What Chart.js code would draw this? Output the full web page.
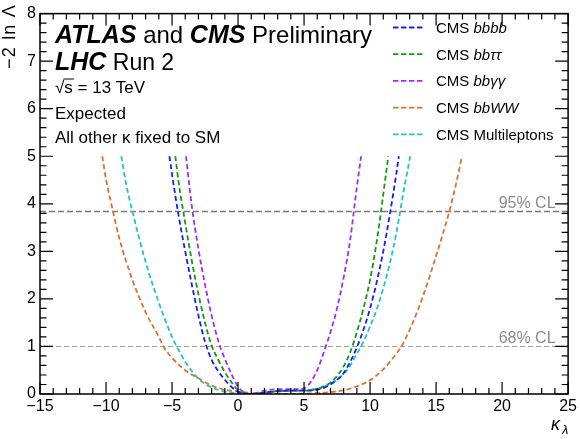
<!DOCTYPE html>
<html>
<head>
<meta charset="utf-8">
<script src="https://cdn.jsdelivr.net/npm/chart.js@4.4.1/dist/chart.umd.min.js"></script>
<style>
  html, body { margin: 0; padding: 0; background: #fff; }
  #wrap { width: 580px; height: 439px; position: relative; }
</style>
</head>
<body>
<div id="wrap"><canvas id="chart-kl"></canvas></div>
<script>
// ─── Data (kappa_lambda, -2 ln Lambda) ───
const bbbbK = [-5.2, -5, -4.5, -4, -3.5, -3, -2.5, -2, -1.5, -1, -0.5, 0, 0.5, 1, 1.5, 2, 3, 4, 5, 6, 6.5, 7, 7.5, 8, 8.5, 9, 9.5, 10, 10.5, 11, 11.5, 12, 12.18];
const bbbbY = [5, 4.62, 3.75, 3.0, 2.3, 1.65, 1.1, 0.72, 0.48, 0.3, 0.15, 0.05, 0.01, 0, 0.01, 0.03, 0.06, 0.07, 0.07, 0.09, 0.13, 0.2, 0.3, 0.44, 0.68, 0.98, 1.35, 1.8, 2.35, 3.0, 3.78, 4.65, 5];

const bbttK = [-4.75, -4.5, -4, -3.5, -3, -2.5, -2, -1.5, -1, -0.5, 0, 0.5, 1, 1.5, 2, 3, 4, 5, 5.5, 6, 6.5, 7, 7.5, 8, 8.5, 9, 9.5, 10, 10.5, 10.8, 11, 11.38];
const bbttY = [5, 4.45, 3.6, 2.8, 2.1, 1.5, 1.02, 0.72, 0.46, 0.25, 0.08, 0.02, 0, 0.01, 0.03, 0.06, 0.07, 0.07, 0.08, 0.11, 0.16, 0.24, 0.38, 0.58, 0.88, 1.3, 1.8, 2.4, 3.2, 3.78, 4.2, 5];

const bbggK = [-3.94, -3.5, -3, -2.5, -2, -1.5, -1, -0.5, 0, 0.5, 1, 1.5, 2, 3, 4, 4.5, 5, 5.5, 6, 6.5, 7, 7.5, 8, 8.5, 8.77, 9, 9.32];
const bbggY = [5, 3.95, 3.05, 2.3, 1.65, 1.12, 0.74, 0.42, 0.15, 0.03, 0, 0.03, 0.07, 0.1, 0.1, 0.1, 0.12, 0.25, 0.5, 0.88, 1.3, 1.8, 2.45, 3.25, 3.84, 4.35, 5];

const bbwwK = [-10.28, -10, -9.47, -9, -8, -7, -6, -5.65, -5, -4, -3, -2, -1, 0, 1, 2, 3, 4, 5, 6, 7, 8, 9, 10, 11, 12, 12.38, 13, 14, 15, 16, 16.5, 16.96];
const bbwwY = [5, 4.52, 3.84, 3.28, 2.4, 1.72, 1.2, 1.0, 0.76, 0.5, 0.33, 0.18, 0.09, 0.05, 0.02, 0.01, 0, 0, 0.01, 0.02, 0.04, 0.08, 0.16, 0.29, 0.52, 0.85, 1.0, 1.35, 2.05, 2.9, 3.84, 4.4, 5];

const mlepK = [-8.84, -8.5, -8, -7, -6, -5, -4.65, -4, -3, -2, -1, 0, 1, 2, 3, 4, 5, 6, 6.5, 7, 7.5, 8, 8.5, 9, 9.32, 10, 10.5, 11, 11.5, 12, 12.28, 12.5, 13.04];
const mlepY = [5, 4.45, 3.84, 2.78, 1.92, 1.2, 1.0, 0.68, 0.32, 0.14, 0.05, 0.01, 0, 0.02, 0.05, 0.07, 0.08, 0.11, 0.15, 0.22, 0.3, 0.42, 0.6, 0.85, 1.0, 1.42, 1.78, 2.22, 2.75, 3.4, 3.84, 4.2, 5];

const seriesLabels = ['CMS bbbb', 'CMS bb\u03c4\u03c4', 'CMS bb\u03b3\u03b3', 'CMS bbWW', 'CMS Multileptons'];
const seriesColors = ['#1a1aff', '#129912', '#a02cf5', '#dd7030', '#1cc5c8'];

const clLevels = [3.84, 1];
const clLabels = ['95% CL', '68% CL'];

const xRange = [-15, 25];
const yRange = [0, 8];

// ─── helpers ───
function toPoints(ks, ys) {
    return ks.map((k, i) => ({ x: k, y: ys[i] }));
}

const FONT = '"Liberation Sans", Arial, Helvetica, sans-serif';
const MINUS = '\u2212';

const curves = [
    [bbbbK, bbbbY], [bbttK, bbttY], [bbggK, bbggY], [bbwwK, bbwwY], [mlepK, mlepY]
].map((kv, i) => ({
    label: seriesLabels[i],
    data: toPoints(kv[0], kv[1]),
    borderColor: seriesColors[i],
    borderWidth: 1.8,
    borderDash: [5, 3],
    pointRadius: 0,
    fill: false,
    cubicInterpolationMode: 'monotone',
    order: 1,
}));

const clLines = clLevels.map((lvl, i) => ({
    label: clLabels[i],
    data: [{ x: xRange[0], y: lvl }, { x: xRange[1], y: lvl }],
    borderColor: i === 0 ? '#7a7a7a' : '#9a9a9a',
    borderWidth: i === 0 ? 1.5 : 1,
    borderDash: i === 0 ? [6, 3] : [5, 3],
    pointRadius: 0,
    fill: false,
    order: 10,
    isCL: true,
}));

// ─── frame, ROOT-style ticks, texts and legend ───
const decorPlugin = {
    id: 'decor',
    afterDraw(chart) {
        const ctx = chart.ctx;
        const area = chart.chartArea;
        const xs = chart.scales.x;
        const ys = chart.scales.y;
        ctx.save();

        // CL labels
        ctx.fillStyle = '#8c8c8c';
        ctx.font = '16px ' + FONT;
        ctx.textAlign = 'right';
        ctx.textBaseline = 'alphabetic';
        clLevels.forEach((lvl, i) => {
            ctx.fillText(clLabels[i], xs.getPixelForValue(24.05), ys.getPixelForValue(lvl) - 3);
        });

        // frame
        ctx.strokeStyle = '#000';
        ctx.lineWidth = 1.5;
        ctx.setLineDash([]);
        ctx.strokeRect(area.left, area.top, area.right - area.left, area.bottom - area.top);

        // ticks (inside, all four sides)
        ctx.lineWidth = 1.2;
        ctx.beginPath();
        for (let v = xRange[0]; v <= xRange[1]; v += 1) {
            const px = xs.getPixelForValue(v);
            const len = (v % 5 === 0) ? 12 : 6;
            ctx.moveTo(px, area.bottom); ctx.lineTo(px, area.bottom - len);
            ctx.moveTo(px, area.top); ctx.lineTo(px, area.top + len);
        }
        for (let i = 0; i <= 40; i++) {
            const v = i * 0.2;
            const py = ys.getPixelForValue(v);
            const len = (i % 5 === 0) ? 13 : 6.5;
            ctx.moveTo(area.left, py); ctx.lineTo(area.left + len, py);
            ctx.moveTo(area.right, py); ctx.lineTo(area.right - len, py);
        }
        ctx.stroke();

        // axis titles
        ctx.fillStyle = '#000';
        ctx.save();
        ctx.translate(15, 4);
        ctx.rotate(-Math.PI / 2);
        ctx.textAlign = 'right';
        ctx.font = '18px ' + FONT;
        ctx.letterSpacing = '1.2px';
        ctx.fillText(MINUS + '2 ln \u039b', 0, 0);
        ctx.letterSpacing = '0px';
        ctx.restore();

        ctx.textAlign = 'left';
        ctx.font = 'italic 18px ' + FONT;
        ctx.fillText('\u03ba', 551, 430);
        ctx.font = 'italic 13px ' + FONT;
        ctx.fillText('\u03bb', 562, 434);

        // top-left labels
        function runs(parts, x, y) {
            parts.forEach(p => {
                ctx.font = p[1] + FONT;
                ctx.fillText(p[0], x, y);
                x += ctx.measureText(p[0]).width;
            });
        }
        runs([['ATLAS', 'italic bold 25px '], [' and ', '24px '], ['CMS', 'italic bold 25px '], [' Preliminary', '24px ']], 55, 43);
        runs([['LHC', 'italic bold 25px '], [' Run 2', '23px ']], 55, 70);

        ctx.font = '17px ' + FONT;
        ctx.fillText('\u221a', 55, 93);
        const rw = ctx.measureText('\u221a').width;
        ctx.fillText('s = 13 TeV', 55 + rw, 93);
        const sw = ctx.measureText('s').width;
        ctx.lineWidth = 1;
        ctx.beginPath();
        ctx.moveTo(55 + rw - 1, 79); ctx.lineTo(55 + rw + sw + 1, 79);
        ctx.stroke();
        ctx.fillText('Expected', 55, 119);
        ctx.fillText('All other \u03ba fixed to SM', 55, 143);

        // legend
        chart.data.datasets.forEach((ds, i) => {
            if (ds.isCL) return;
            const y = 27.5 + i * 26.7;
            ctx.strokeStyle = ds.borderColor;
            ctx.lineWidth = 1.8;
            ctx.setLineDash([5.5, 2.5]);
            ctx.beginPath();
            ctx.moveTo(393, y); ctx.lineTo(424, y);
            ctx.stroke();
            ctx.setLineDash([]);
            ctx.fillStyle = '#000';
            const rest = ds.label.slice(4);
            const italic = rest !== 'Multileptons';
            runs([['CMS ', '15px '], [rest, (italic ? 'italic ' : '') + '15px ']], 436, y + 5.5);
        });

        ctx.restore();
    }
};

new Chart(document.getElementById('chart-kl'), {
    type: 'line',
    data: { datasets: curves.concat(clLines) },
    options: {
        responsive: true,
        maintainAspectRatio: false,
        animation: false,
        layout: { padding: { left: 0, right: 11, top: 7, bottom: 0 } },
        plugins: {
            legend: { display: false },
            tooltip: { enabled: false },
        },
        scales: {
            x: {
                type: 'linear',
                min: xRange[0],
                max: xRange[1],
                afterFit: s => { s.height = 45; },
                grid: { display: false, drawTicks: false },
                border: { display: false },
                ticks: {
                    stepSize: 5,
                    autoSkip: false,
                    maxRotation: 0,
                    padding: 3,
                    color: '#000',
                    font: { family: FONT, size: 16 },
                    callback: v => String(v).replace('-', MINUS),
                },
            },
            y: {
                min: yRange[0],
                max: yRange[1],
                afterFit: s => { s.width = 40; },
                grid: { display: false, drawTicks: false },
                border: { display: false },
                ticks: {
                    stepSize: 1,
                    autoSkip: false,
                    padding: 4,
                    color: '#000',
                    font: { family: FONT, size: 16 },
                },
            },
        },
    },
    plugins: [decorPlugin],
});
</script>
</body>
</html>
